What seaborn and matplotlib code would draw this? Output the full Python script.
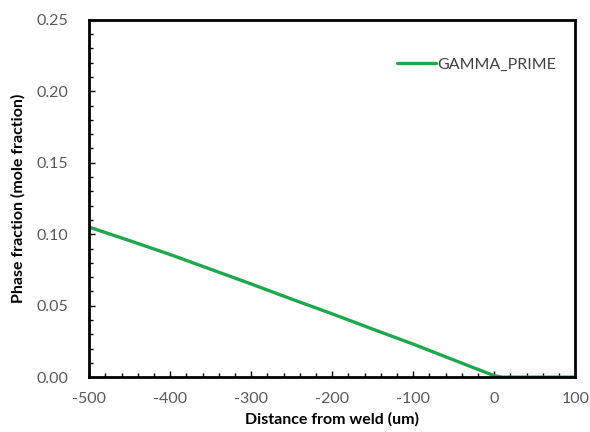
import matplotlib
matplotlib.use("Agg")
import matplotlib.pyplot as plt
import seaborn as sns
import pandas as pd
from matplotlib.ticker import MultipleLocator

distance = [-500, -450, -400, -350, -300, -250, -200, -150, -100, -50, 0, 10, 20, 50, 100]
gamma_prime = [0.105, 0.0955, 0.0858, 0.0755, 0.0652, 0.0546, 0.0443, 0.0336, 0.0231, 0.012, 0.001, 0.0, 0.0, 0.0, 0.0]

df = pd.DataFrame({"Distance": distance, "GAMMA_PRIME": gamma_prime})

sns.set_theme(style="white")
plt.rcParams['font.family'] = ['Lato', 'DejaVu Sans']
plt.rcParams['axes.unicode_minus'] = False

fig = plt.figure(figsize=(5.9, 4.32), dpi=100)
ax = fig.add_axes([0.151, 0.127, 0.824, 0.827])

sns.lineplot(data=df, x="Distance", y="GAMMA_PRIME", ax=ax, color="#1FA84B",
             linewidth=2.4, label="GAMMA_PRIME")

ax.set_xlim(-500, 100)
ax.set_ylim(0, 0.25)
ax.xaxis.set_major_locator(MultipleLocator(100))
ax.xaxis.set_minor_locator(MultipleLocator(20))
ax.yaxis.set_major_locator(MultipleLocator(0.05))
ax.yaxis.set_minor_locator(MultipleLocator(0.01))
ax.yaxis.set_major_formatter(matplotlib.ticker.FormatStrFormatter('%.2f'))

ax.tick_params(which='both', direction='in', colors='black', labelcolor='#595959',
               labelsize=11.5, width=1.0)
ax.tick_params(which='major', length=4)
ax.tick_params(axis='x', which='major', pad=11)
ax.tick_params(axis='y', which='major', pad=15)
ax.tick_params(which='minor', length=3)
ax.tick_params(axis='both', which='both', bottom=True, left=True, top=False, right=False)

for s in ax.spines.values():
    s.set_color('black')
    s.set_linewidth(2.0)

ax.set_xlabel("Distance from weld (um)", fontsize=11.5, fontweight='bold', color='black', labelpad=4)
ax.set_ylabel("Phase fraction (mole fraction)", fontsize=11.5, fontweight='bold', color='black', labelpad=8)

leg = ax.legend(loc='upper right', bbox_to_anchor=(0.99, 0.935), frameon=False,
                fontsize=11.5, handlelength=2.4, handletextpad=0.1)
for t in leg.get_texts():
    t.set_color('#404040')

fig.savefig("out.png", dpi=100)
